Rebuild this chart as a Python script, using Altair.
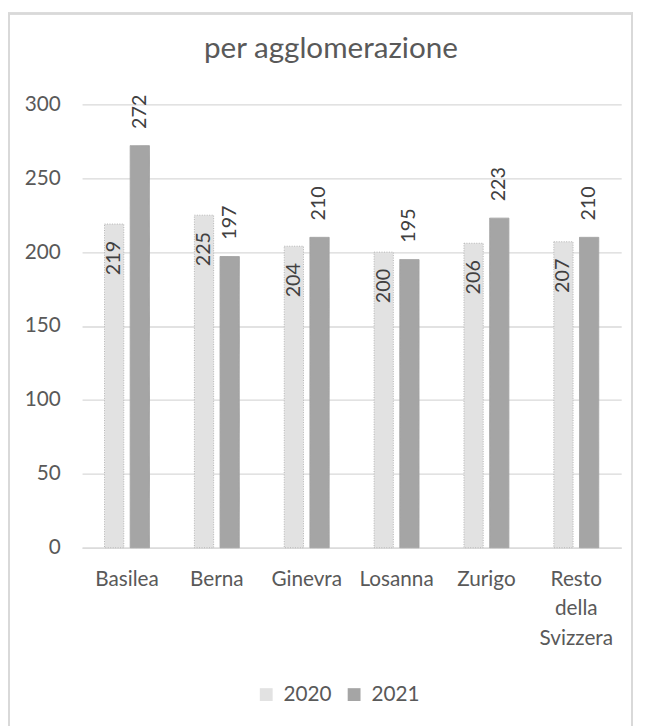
import altair as alt
import pandas as pd

cities = ["Basilea", "Berna", "Ginevra", "Losanna", "Zurigo", "Resto della Svizzera"]
values_2020 = [219, 225, 204, 200, 206, 207]
values_2021 = [272, 197, 210, 195, 223, 210]
years = ["2020", "2021"]
y_ticks = [0, 50, 100, 150, 200, 250, 300]

rows = []
for c, v0, v1 in zip(cities, values_2020, values_2021):
    rows.append({"city": c, "year": "2020", "value": v0})
    rows.append({"city": c, "year": "2021", "value": v1})
df = pd.DataFrame(rows)

FONT = "Lato"
GRAY = "#595959"

x_enc = alt.X(
    "city:N",
    sort=cities,
    scale=alt.Scale(paddingInner=0.5, paddingOuter=0.25),
    axis=alt.Axis(
        title=None,
        labelAngle=0,
        labelFont=FONT,
        labelFontSize=21,
        labelColor=GRAY,
        labelPadding=21,
        labelLineHeight=30,
        labelExpr="split(datum.label, ' ')",
        ticks=False,
        domainColor="#D9D9D9",
        domainWidth=1.3,
        grid=False,
    ),
)
xoff_enc = alt.XOffset("year:N", scale=alt.Scale(domain=years, paddingInner=0.25))
y_enc = alt.Y(
    "value:Q",
    scale=alt.Scale(domain=[0, 300], nice=False),
    axis=alt.Axis(
        title=None,
        values=y_ticks,
        labelFont=FONT,
        labelFontSize=21,
        labelColor=GRAY,
        labelPadding=22,
        domain=False,
        ticks=False,
        gridColor="#D9D9D9",
        gridWidth=1.3,
    ),
)

base = alt.Chart(df).encode(x=x_enc, xOffset=xoff_enc, y=y_enc)

bars = base.mark_bar().encode(
    color=alt.Color(
        "year:N",
        scale=alt.Scale(domain=years, range=["#E2E2E2", "#A5A5A5"]),
        legend=alt.Legend(
            title=None,
            orient="none",
            direction="horizontal",
            legendX=176,
            legendY=587,
            symbolType="square",
            symbolSize=169,
            symbolStrokeWidth=0,
            labelFont=FONT,
            labelFontSize=21,
            labelColor=GRAY,
            labelOffset=7,
            columnPadding=12,
            padding=0,
        ),
    ),
    stroke=alt.Stroke(
        "year:N", scale=alt.Scale(domain=years, range=["#B5B5B5", "#A5A5A5"]), legend=None
    ),
    strokeDash=alt.StrokeDash(
        "year:N", scale=alt.Scale(domain=years, range=[[1, 1.5], [1, 0]]), legend=None
    ),
)

lab21 = base.transform_filter(alt.datum.year == "2021").mark_text(
    angle=270, align="left", baseline="middle", dx=17, font=FONT, fontSize=20, color="#404040"
).encode(text="value:Q")

lab20 = base.transform_filter(alt.datum.year == "2020").mark_text(
    angle=270, align="right", baseline="middle", dx=-17, font=FONT, fontSize=20, color="#404040"
).encode(text="value:Q")

frame = alt.Chart(df).mark_rect(fill=None, stroke="#D9D9D9", strokeWidth=1.5).encode(
    x=alt.value(-74), x2=alt.value(557), y=alt.value(-92), y2=alt.value(700)
)

chart = (
    alt.layer(frame, bars, lab20, lab21)
    .properties(
        width=546,
        height=449,
        padding={"left": 75, "top": 93, "right": 17, "bottom": 176},
        autosize=alt.AutoSizeParams(type="none"),
        title=alt.TitleParams(
            "per agglomerazione",
            font=FONT,
            fontSize=30,
            fontWeight="normal",
            color=GRAY,
            anchor="middle",
            frame="group",
            baseline="alphabetic",
            offset=-76,
            dx=-21,
        ),
    )
    .configure_view(stroke=None)
)

chart.save("out.html", embed_options={"renderer": "svg", "actions": False})
